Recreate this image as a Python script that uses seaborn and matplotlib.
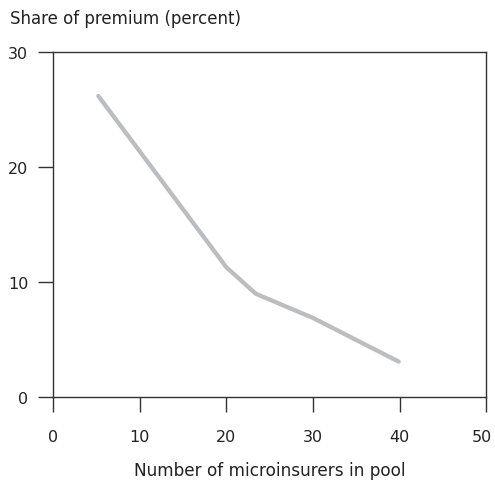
import pandas as pd
import seaborn as sns
from matplotlib import pyplot as plt
from matplotlib.transforms import ScaledTranslation

# pool size vs share of premium
pool_size = [5.2, 20, 23.4, 30, 39.9]
premium_share = [26.2, 11.3, 9.0, 6.9, 3.1]

x_ticks = [0, 10, 20, 30, 40, 50]
y_ticks = [0, 10, 20, 30]

sns.set_style("white")
plt.rcParams['font.family'] = ['DejaVu Sans']

df = pd.DataFrame({'pool': pool_size, 'share': premium_share})

fig = plt.figure(figsize=(4.95, 4.85), dpi=100)
ax = fig.add_axes([0.1077, 0.1788, 0.8743, 0.7113])

sns.lineplot(data=df, x='pool', y='share', color='#bcbdc0', linewidth=3.1,
             ax=ax, sort=False)

ax.set_xlim(0, 50)
ax.set_ylim(0, 30)
ax.set_xticks(x_ticks)
ax.set_yticks(y_ticks)
ax.tick_params(axis='both', direction='out', length=11, width=1,
               color='#333333', labelsize=11.5, labelcolor='#222222',
               left=True, bottom=True)
ax.tick_params(axis='x', pad=12)
ax.tick_params(axis='y', pad=7)
for s in ax.spines.values():
    s.set_color('#333333')
    s.set_linewidth(1)

# nudge last x label so it stays inside the figure
last = ax.get_xticklabels()[-1]
last.set_transform(last.get_transform() + ScaledTranslation(-3 / 72, 0, fig.dpi_scale_trans))

ax.set_xlabel('Number of microinsurers in pool', fontsize=12.2,
              color='#222222', labelpad=12)
ax.set_ylabel('')
fig.text(0.02, 0.96, 'Share of premium (percent)', fontsize=12,
         color='#222222', va='center', ha='left')

fig.savefig('out.png', dpi=100)
